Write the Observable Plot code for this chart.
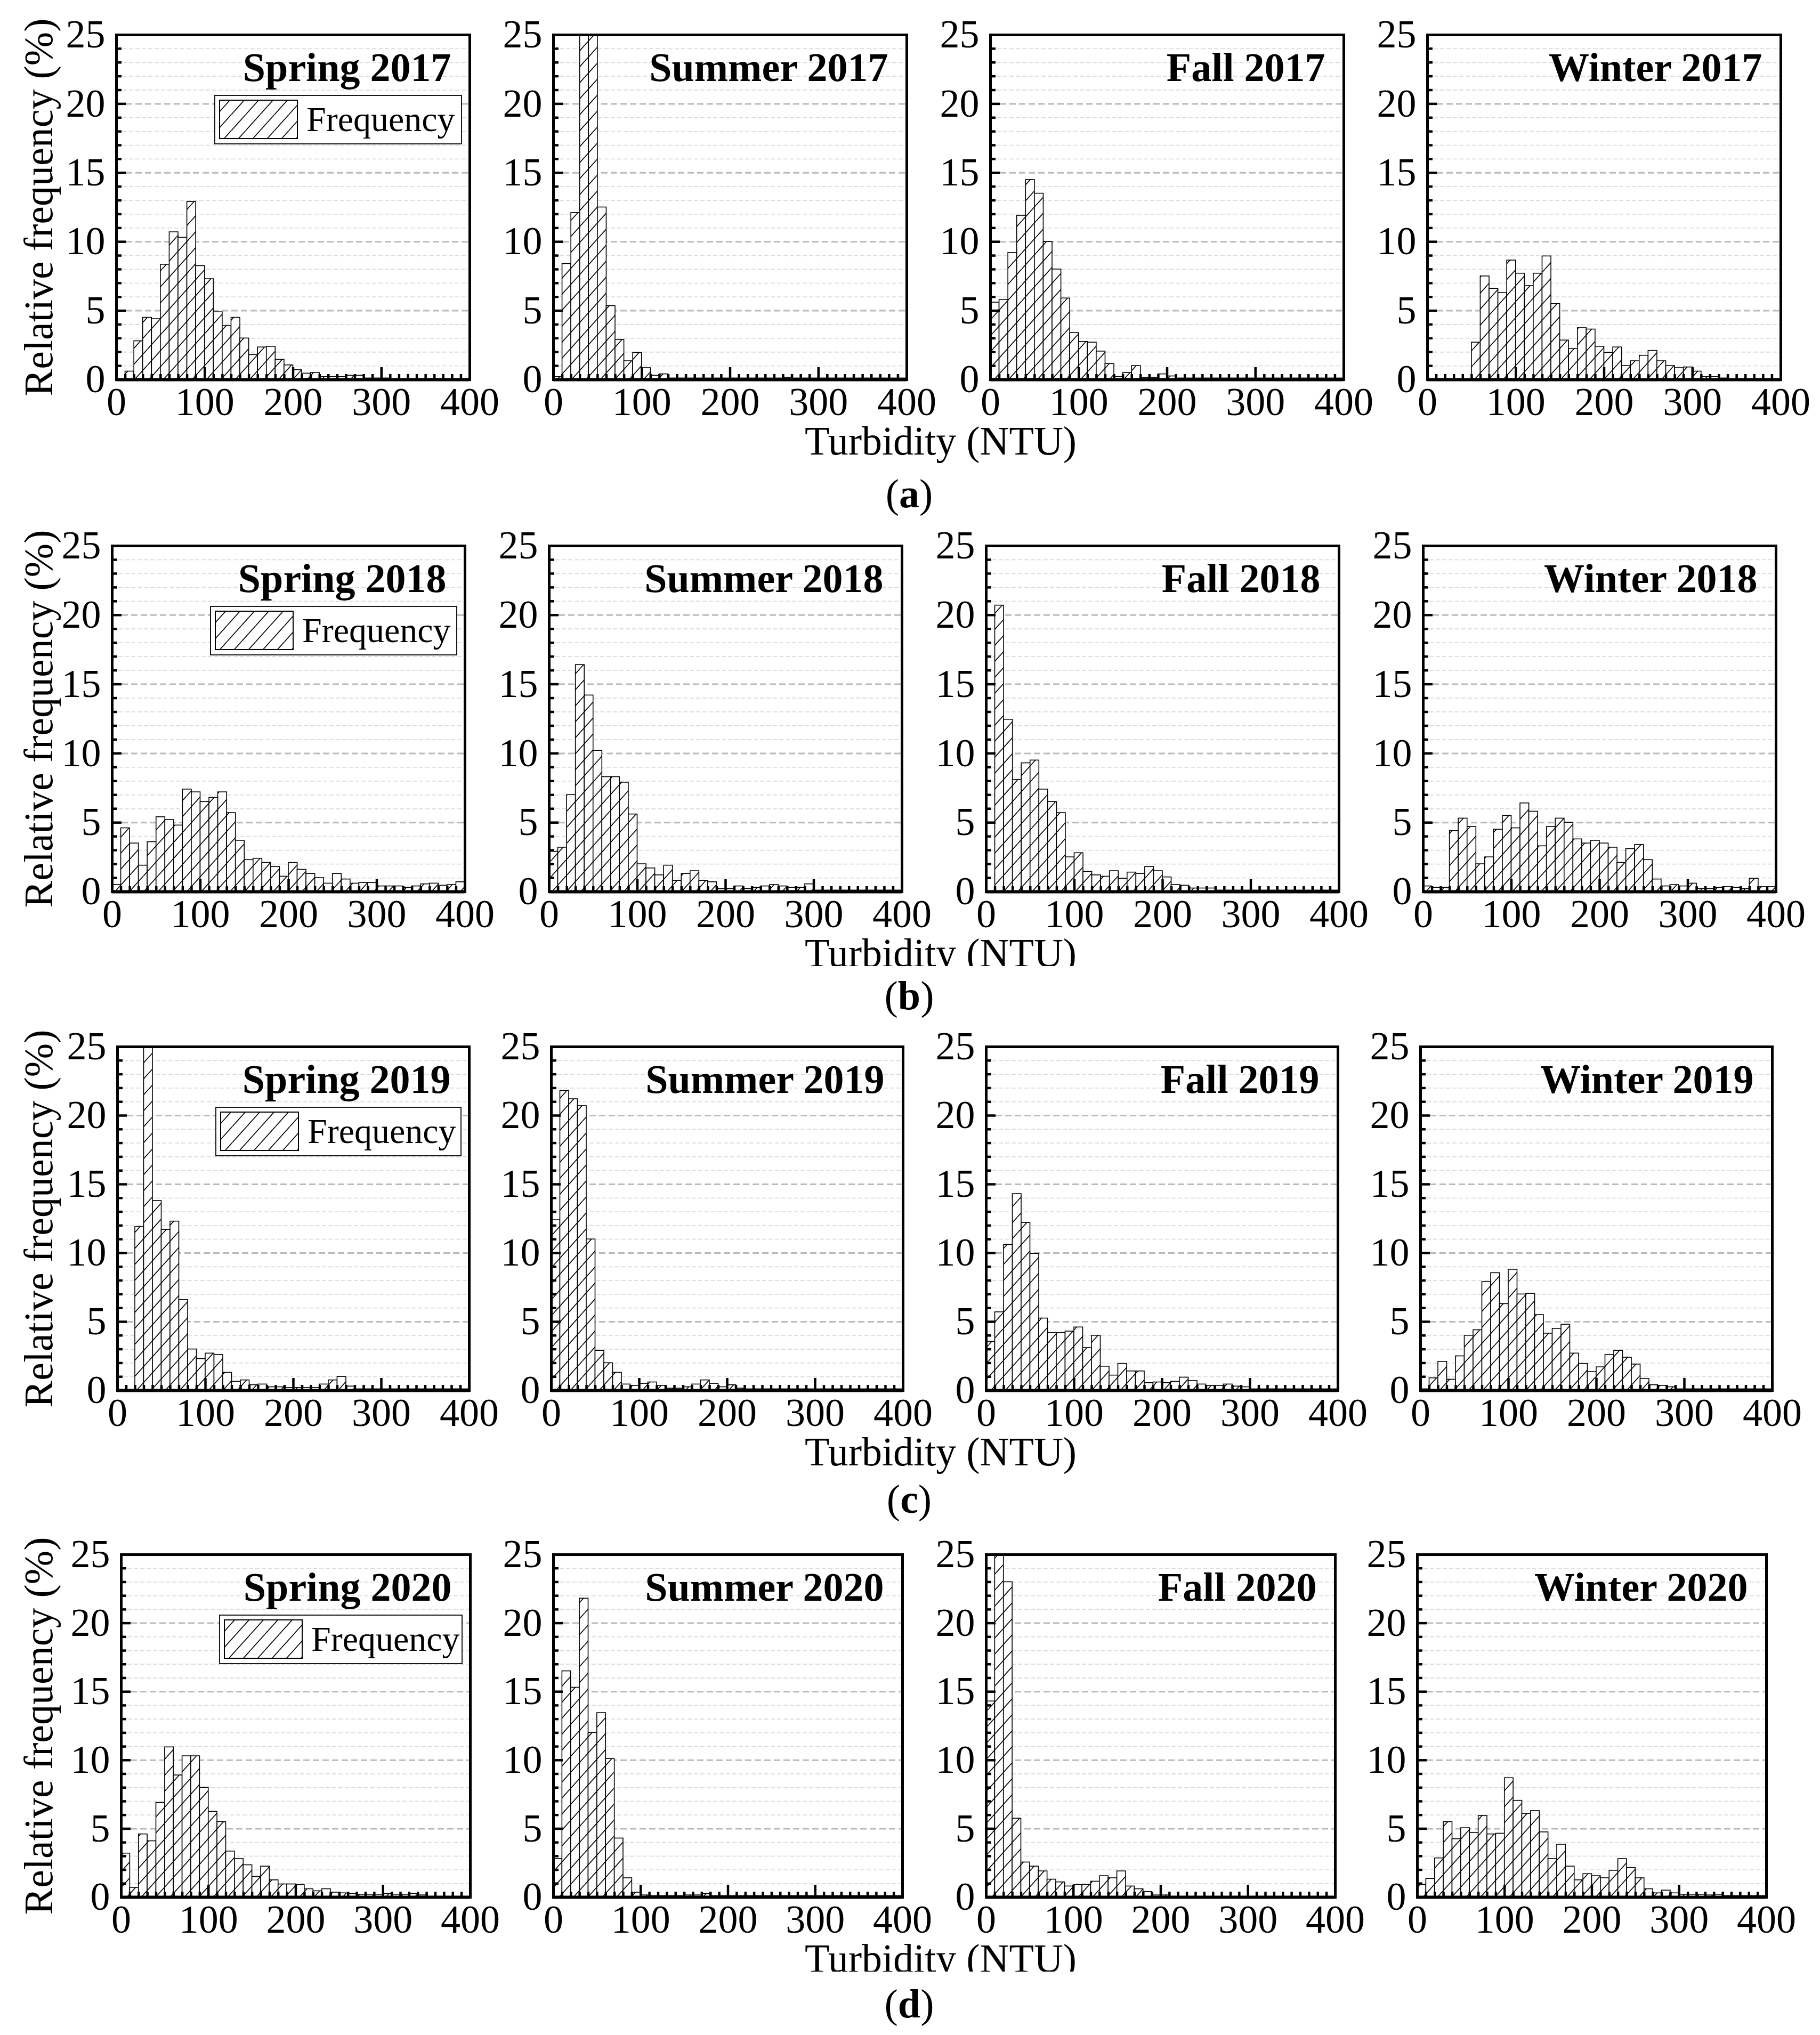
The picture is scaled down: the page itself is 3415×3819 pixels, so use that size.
<!DOCTYPE html>
<html>
<head>
<meta charset="utf-8">
<script src="https://cdn.jsdelivr.net/npm/d3@7"></script>
<script src="https://cdn.jsdelivr.net/npm/@observablehq/plot@0.6"></script>
<style>
  body { margin: 0; background: #fff; }
  #fig { position: relative; width: 3415px; height: 3819px; background: #fff; overflow: hidden;
         font-family: "Liberation Serif", "Times New Roman", serif; color: #000; }
  .panel { position: absolute; }
  .ylab { position: absolute; font-size: 76px; line-height: 1; white-space: nowrap;
          transform: translate(-50%, -50%) rotate(-90deg); }
  .xlab { position: absolute; font-size: 76px; line-height: 1; white-space: nowrap;
          transform: translateX(-50%); }
  .xlab.cut { overflow: hidden; }
  .cap { position: absolute; font-size: 76px; line-height: 1; white-space: nowrap; transform: translateX(-50%); }
  .cap b { font-weight: bold; }
</style>
</head>
<body>
<div id="fig"></div>
<script>
const seasons = ["Spring", "Summer", "Fall", "Winter"];
const years = [2017, 2018, 2019, 2020];
const rowLetters = ["a", "b", "c", "d"];
const binWidth = 10; // NTU per bar
const xTicks = [0, 100, 200, 300, 400];
const yTicks = [0, 5, 10, 15, 20, 25];

// relative frequency (%) of each 10 NTU bin, first bin = 0-10 NTU
const spring2017 = [0, 0.6, 2.8, 4.5, 4.4, 8.35, 10.7, 10.3, 12.9, 8.25, 7.3, 4.9, 3.9, 4.5, 3.0, 1.8, 2.35, 2.4, 1.45, 1.05, 0.7, 0.45, 0.5, 0.2, 0.2, 0.2, 0.3, 0.3, 0.1, 0.1, 0.1];
const summer2017 = [0.2, 8.4, 12.1, 28, 27, 12.5, 5.35, 2.9, 1.35, 1.95, 0.85, 0.3, 0.4, 0.1, 0.1, 0.1, 0.1, 0.1, 0.1, 0.1, 0.1, 0.1, 0.1, 0.1, 0.1, 0.1, 0.15, 0.1, 0.1, 0.1, 0.1, 0.1, 0.1, 0.1, 0.1, 0.1, 0.1, 0.1, 0.1, 0.1];
const fall2017 = [5.6, 5.8, 9.2, 11.9, 14.5, 13.5, 10.0, 8.0, 5.9, 3.4, 2.75, 2.7, 2.05, 1.15, 0.2, 0.5, 1.0, 0.15, 0.15, 0.4, 0.25, 0.1, 0.1, 0.1, 0.1, 0.1, 0.1, 0.1, 0.1, 0.1, 0.1, 0.1, 0.1, 0.1, 0.1, 0.1, 0.1, 0.1, 0.1, 0.1];
const winter2017 = [0, 0, 0, 0, 0, 2.7, 7.5, 6.6, 6.3, 8.65, 7.7, 6.8, 7.7, 8.95, 5.5, 2.85, 2.25, 3.75, 3.65, 2.4, 1.95, 2.35, 1.0, 1.35, 1.75, 2.1, 1.35, 1.0, 0.85, 0.9, 0.6, 0.2, 0.2, 0.1];

const spring2018 = [0.5, 4.6, 3.5, 1.9, 3.6, 5.4, 5.2, 4.8, 7.4, 7.2, 6.5, 6.8, 7.2, 5.7, 3.7, 2.3, 2.4, 2.1, 1.8, 1.1, 2.1, 1.6, 1.3, 1.0, 0.6, 1.3, 0.9, 0.6, 0.65, 0.65, 0.4, 0.4, 0.4, 0.3, 0.4, 0.55, 0.6, 0.45, 0.5, 0.7];
const summer2018 = [2.9, 3.2, 7.0, 16.4, 14.2, 10.2, 8.3, 8.3, 7.9, 5.6, 2.0, 1.7, 1.2, 1.9, 0.8, 1.3, 1.5, 0.8, 0.7, 0.2, 0.2, 0.4, 0.2, 0.3, 0.4, 0.5, 0.4, 0.3, 0.3, 0.55, 0.1, 0.1, 0.1, 0.1, 0.1, 0.1, 0.1, 0.1, 0.1, 0.1];
const fall2018 = [0, 20.7, 12.45, 8.1, 9.3, 9.5, 7.4, 6.5, 5.7, 2.5, 2.8, 1.45, 1.2, 1.1, 1.5, 0.95, 1.4, 1.3, 1.8, 1.5, 1.05, 0.5, 0.45, 0.25, 0.25, 0.25, 0.1, 0.1, 0.1, 0.1, 0.1, 0.1, 0.1, 0.1, 0.1, 0.1, 0.1, 0.1, 0.1, 0.1];
const winter2018 = [0.4, 0.3, 0.3, 4.4, 5.3, 4.7, 2.0, 2.5, 4.5, 5.5, 4.6, 6.4, 5.8, 3.3, 4.7, 5.3, 5.0, 3.8, 3.5, 3.7, 3.5, 3.2, 2.1, 3.1, 3.4, 2.3, 0.9, 0.4, 0.5, 0.4, 0.6, 0.2, 0.2, 0.3, 0.35, 0.3, 0.2, 0.95, 0.35, 0.35];

const spring2019 = [0, 0, 11.9, 28, 13.8, 11.7, 12.3, 6.6, 3.0, 2.3, 2.7, 2.6, 1.3, 0.65, 0.75, 0.4, 0.45, 0.25, 0.25, 0.2, 0.2, 0.2, 0.2, 0.45, 0.75, 1.0, 0.3, 0.1, 0.1, 0.1, 0.1, 0.1, 0.1, 0.1, 0.1, 0.1, 0.1, 0.1, 0.1, 0.1];
const summer2019 = [12.4, 21.8, 21.2, 20.7, 11.0, 2.9, 2.0, 1.3, 0.45, 0.35, 0.5, 0.6, 0.35, 0.15, 0.15, 0.25, 0.45, 0.75, 0.5, 0.25, 0.4, 0.15, 0.1, 0.1, 0.1, 0.1, 0.1, 0.1, 0.1, 0.1, 0.1, 0.1, 0.1, 0.1, 0.1, 0.1, 0.1, 0.1, 0.1, 0.1];
const fall2019 = [3.55, 5.7, 10.6, 14.3, 12.2, 9.95, 5.25, 4.2, 4.2, 4.3, 4.6, 3.1, 4.0, 1.75, 1.1, 1.95, 1.4, 1.4, 0.55, 0.6, 0.55, 0.65, 0.95, 0.7, 0.45, 0.35, 0.35, 0.45, 0.3, 0.25, 0.1, 0.1, 0.1, 0.1, 0.1, 0.1, 0.1, 0.1, 0.1, 0.1];
const winter2019 = [0.1, 0.9, 2.1, 0.8, 2.5, 4.0, 4.4, 7.9, 8.55, 6.3, 8.8, 7.0, 7.05, 5.5, 4.15, 4.5, 4.8, 2.7, 1.95, 1.35, 1.7, 2.6, 2.9, 2.4, 1.9, 0.85, 0.4, 0.35, 0.25, 0.1, 0.1, 0.1, 0.1, 0.1, 0.1, 0.1, 0.1, 0.1, 0.1, 0.1];

const spring2020 = [3.2, 0.7, 4.6, 4.1, 6.9, 10.95, 8.9, 10.3, 10.3, 8.0, 6.25, 5.5, 3.35, 2.8, 2.35, 1.5, 2.25, 1.25, 0.95, 0.95, 0.9, 0.6, 0.45, 0.6, 0.35, 0.3, 0.25, 0.2, 0.2, 0.2, 0.25, 0.2, 0.2, 0.25, 0.15, 0.05, 0.05, 0.05, 0.05, 0.05];
const summer2020 = [2.8, 16.5, 15.3, 21.8, 12.0, 13.45, 10.1, 4.3, 1.4, 0.35, 0.15, 0.1, 0.1, 0.1, 0.1, 0.15, 0.15, 0.25, 0.1, 0.1, 0.1, 0.1, 0.1, 0.1, 0.1, 0.1, 0.1, 0.1, 0.1, 0.1, 0.1, 0.1, 0.1, 0.1, 0.1, 0.1, 0.1, 0.1, 0.1, 0.1];
const fall2020 = [14.3, 27, 23.0, 5.75, 2.55, 2.25, 1.9, 1.3, 1.1, 0.8, 0.9, 0.9, 1.15, 1.55, 1.4, 1.9, 0.8, 0.6, 0.4, 0.15, 0.15, 0.05, 0.05, 0.05, 0.05, 0.05, 0.05, 0.05, 0.05, 0.05, 0.05, 0.05, 0.05, 0.05, 0.05, 0.05, 0.05, 0.05, 0.05, 0.05];
const winter2020 = [0.9, 1.35, 2.85, 5.5, 4.25, 5.05, 4.7, 5.95, 4.6, 4.65, 8.7, 7.05, 6.1, 6.3, 4.75, 2.8, 3.85, 2.25, 1.25, 1.7, 1.55, 1.4, 1.95, 2.8, 2.15, 1.4, 0.6, 0.3, 0.5, 0.3, 0.2, 0.2, 0.2, 0.15, 0.2, 0.1, 0.1, 0.1, 0.1, 0.1];

const rows = [
  [spring2017, summer2017, fall2017, winter2017],
  [spring2018, summer2018, fall2018, winter2018],
  [spring2019, summer2019, fall2019, winter2019],
  [spring2020, summer2020, fall2020, winter2020]
];

// page layout (pixels)
const frameTops = [65, 1024, 1964, 2917];
const frameHeights = [647, 649, 645, 643];
const frameLefts = [[218, 1038, 1858, 2678], [210, 1030, 1850, 2670], [220, 1034, 1850, 2665], [227, 1038, 1850, 2659]];
const frameWidths = [663, 662, 660, 655];
const captionBase = [240, 221, 230, 226];
const mL = 130, mR = 70, mT = 10, mB = 95;

const fig = document.getElementById("fig");

const yMinor = d3.range(1, 25).filter(d => d % 5 !== 0);
const yMajor = [5, 10, 15, 20];
const xMinor = d3.range(10, 400, 10).filter(d => d % 100 !== 0);
const xMajor = [100, 200, 300];

function panel(values, title, fw, fh, id, withLegend) {
  const data = values.map((v, i) => ({x1: i * binWidth, x2: (i + 1) * binWidth, v}));
  const kx = 400 / fw, ky = 25 / fh;
  const chart = Plot.plot({
    width: mL + fw + mR,
    height: mT + fh + mB,
    marginLeft: mL, marginRight: mR, marginTop: mT, marginBottom: mB,
    style: {fontFamily: "Liberation Serif", fontSize: "74px", background: "transparent", overflow: "visible"},
    x: {domain: [0, 400], ticks: xTicks, tickSize: 0, tickPadding: 14, label: null},
    y: {domain: [0, 25], ticks: yTicks, tickSize: 0, tickPadding: 21, label: null},
    marks: [
      Plot.ruleY(yMinor, {stroke: "#dcdcdc", strokeWidth: 1.8, strokeDasharray: "8,4"}),
      Plot.ruleY(yMajor, {stroke: "#bababa", strokeWidth: 3, strokeDasharray: "12,6"}),
      Plot.rectY(data, {x1: "x1", x2: "x2", y: "v", fill: `url(#${id})`, stroke: "black", strokeWidth: 1.6, clip: true}),
      Plot.ruleX(xMinor, {y1: 0, y2: 10 * ky, stroke: "black", strokeWidth: 4.5}),
      Plot.ruleX(xMajor, {y1: 0, y2: 23 * ky, stroke: "black", strokeWidth: 4.5}),
      Plot.ruleY(yMinor, {x1: 0, x2: 10 * kx, stroke: "black", strokeWidth: 4.5}),
      Plot.ruleY(yMajor, {x1: 0, x2: 18 * kx, stroke: "black", strokeWidth: 4.5}),
      Plot.frame({stroke: "black", strokeWidth: 5}),
      Plot.ruleY([0], {stroke: "black", strokeWidth: 6}),
      Plot.text([title], {frameAnchor: "top-right", dx: -35, dy: 33, fontSize: 76, fontWeight: "bold"})
    ]
  });

  const svg = d3.select(chart);
  const pat = svg.insert("defs", ":first-child").append("pattern")
    .attr("id", id).attr("patternUnits", "userSpaceOnUse")
    .attr("width", 27).attr("height", 30);
  pat.append("rect").attr("width", 27).attr("height", 30).attr("fill", "white");
  pat.append("path").attr("d", "M0,30L27,0M-27,30L0,0M27,30L54,0")
    .attr("stroke", "black").attr("stroke-width", 1.7).attr("fill", "none");

  if (withLegend) {
    const g = svg.append("g").attr("transform", `translate(${mL},${mT})`);
    g.append("rect").attr("x", 185).attr("y", 114).attr("width", fw - 15 - 185).attr("height", 91)
      .attr("fill", "white").attr("stroke", "black").attr("stroke-width", 1.8);
    g.append("rect").attr("x", 194).attr("y", 123).attr("width", 146).attr("height", 72)
      .attr("fill", `url(#${id})`).attr("stroke", "black").attr("stroke-width", 2);
    g.append("text").attr("x", 357).attr("y", 181)
      .attr("text-anchor", "start").style("font-size", "66px").text("Frequency");
  }
  return chart;
}

rows.forEach((row, r) => {
  const top = frameTops[r], fh = frameHeights[r], fw = frameWidths[r];
  row.forEach((values, c) => {
    const div = document.createElement("div");
    div.className = "panel";
    div.style.left = (frameLefts[r][c] - mL) + "px";
    div.style.top = (top - mT) + "px";
    div.appendChild(panel(values, `${seasons[c]} ${years[r]}`, fw, fh, `hatch-${r}-${c}`, c === 0));
    fig.appendChild(div);
  });

  const yl = document.createElement("div");
  yl.className = "ylab";
  yl.style.left = "72px";
  yl.style.top = (top + fh / 2) + "px";
  yl.textContent = "Relative frequency (%)";
  fig.appendChild(yl);

  const bottom = top + fh;
  const xl = document.createElement("div");
  xl.className = "xlab";
  xl.style.left = "1765px";
  xl.style.top = (bottom + 77) + "px";
  if (r % 2 === 1) { xl.classList.add("cut"); xl.style.height = "63px"; } // label partly hidden in rows b and d
  xl.textContent = "Turbidity (NTU)";
  fig.appendChild(xl);

  const cap = document.createElement("div");
  cap.className = "cap";
  cap.style.left = "1706px";
  cap.style.top = (bottom + captionBase[r] - 64) + "px";
  cap.innerHTML = `(<b>${rowLetters[r]}</b>)`;
  fig.appendChild(cap);
});
</script>
</body>
</html>
